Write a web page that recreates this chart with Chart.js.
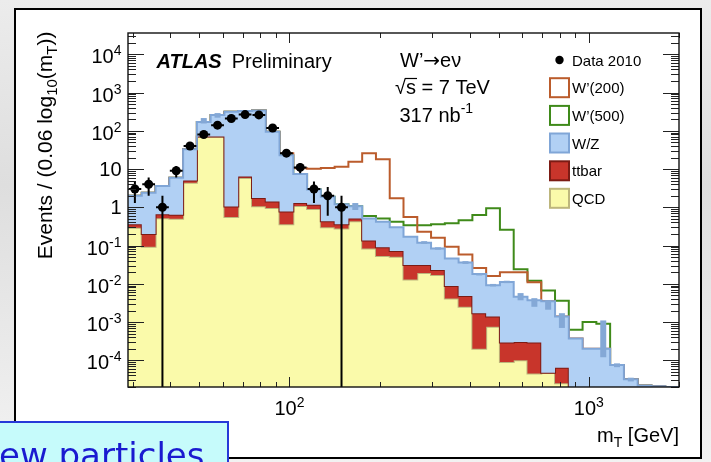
<!DOCTYPE html>
<html>
<head>
<meta charset="utf-8">
<title>W' to e nu, transverse mass</title>
<script src="https://cdn.jsdelivr.net/npm/chart.js@4.4.1/dist/chart.umd.min.js"></script>
<style>
  html, body { margin: 0; padding: 0; background: #e9e9e9; }
  #wrap { position: relative; width: 711px; height: 462px; overflow: hidden; }
  canvas { display: block; }
</style>
</head>
<body>
<div id="wrap"><canvas id="mt-chart" width="711" height="462"></canvas></div>
<script>
'use strict';

// *************** DATA
// binning: 40 equal steps in log10(mT) between these two edges (GeV)
let xMin = 28.9;
let xMax = 2000;
let nBins = 40;
let yMin = 2e-5;
let yMax = 3.6e4;

// stacked histogram tops, one value per bin
let qcdTop = [0.29, 0.093, 0.52, 0.5, 4.4, 70, 70, 0.56, 5.8, 1.07,
  0.95, 0.36, 1.08, 0.9, 0.3, 0.28, 0.43, 0.084, 0.053, 0.051,
  0.013, 0.019, 0.017, 0.0041, 0.0025, 0.0002, 0.00075, 0.00009, 0.0001, 0.000045,
  0.000047, 0.000025, 0, 0, 0, 0, 0, 0, 0, 0];
let ttbarTop = [0.36, 0.2, 0.66, 0.64, 5.0, 71, 71, 1.05, 6.4, 1.75,
  1.42, 0.77, 1.3, 1.17, 0.43, 0.36, 0.51, 0.135, 0.09, 0.072,
  0.031, 0.031, 0.023, 0.0087, 0.0048, 0.0017, 0.0014, 0.00029, 0.0003, 0.00029,
  0.000047, 0.000064, 0, 0, 0, 0, 0, 0, 0, 0];
let wzTop = [2.0, 2.4, 3.6, 5.9, 33, 170, 257, 314, 327, 340,
  94, 23, 7.4, 2.9, 1.88, 1.2, 1.07, 0.51, 0.42, 0.3,
  0.17, 0.118, 0.084, 0.046, 0.036, 0.018, 0.0092, 0.0112, 0.0046, 0.0037,
  0.0035, 0.0014, 0.00037, 0.0002, 0.0002, 0.000075, 0.000032, 0.000022, 0.000021, 0.00002];
// signal drawn on top of the full background
let wp200Top = [2.0, 2.4, 3.6, 5.9, 33, 170, 257, 314, 327, 340,
  94, 26, 10.4, 10.2, 10.6, 11.5, 15.5, 25.7, 17.9, 1.71,
  0.56, 0.23, 0.16, 0.093, 0.058, 0.026, 0.016, 0.02, 0.02, 0.011,
  0.0035, 0.0014, 0.00037, 0.0002, 0.0002, 0.000075, 0.000032, 0.000022, 0.000021, 0.00002];
let wp500Top = [2.0, 2.4, 3.6, 5.9, 33, 170, 257, 314, 327, 340,
  94, 23, 7.4, 2.9, 1.88, 1.2, 1.07, 0.59, 0.51, 0.42,
  0.34, 0.34, 0.36, 0.38, 0.46, 0.63, 0.94, 0.26, 0.024, 0.012,
  0.0067, 0.0036, 0.00063, 0.001, 0.0009, 0.000075, 0.000032, 0.000022, 0.000021, 0.00002];

// data 2010, first 16 bins
let dataCounts = [3, 4, 1, 9, 40, 80, 140, 210, 265, 260, 118, 26, 11, 3, 2, 1];
let dataErr = [1.7, 2, 1, 3, 6.3, 9, 11.8, 14.5, 16.3, 16.1, 10.9, 5.1, 3.3, 1.7, 1.4, 1];

// MC stat band where it shows (low / high), null = not visible
let mcBandLo = [null, null, null, null, null, 155, 220, null, null, null,
  null, null, null, null, null, null, 0.85, null, null, null,
  null, 0.11, 0.078, null, 0.033, 0.0165, 0.0085, 0.0104, 0.0037, 0.0025,
  0.0021, 0.0007, null, null, 0.00012, 0.000066, 0.000028, null, null, null];
let mcBandHi = [null, null, null, null, null, 215, 290, null, null, null,
  null, null, null, null, null, null, 1.29, null, null, null,
  null, 0.13, 0.09, null, 0.039, 0.019, 0.0099, 0.012, 0.0057, 0.0042,
  0.0037, 0.0017, null, null, 0.0011, 0.000083, 0.000035, null, null, null];

let yTickExps = [-4, -3, -2, -1, 0, 1, 2, 3, 4];
let xTickExps = [2, 3];
let legendNames = ['Data 2010', 'W’(200)', 'W’(500)', 'W/Z', 'ttbar', 'QCD'];

// *************** COLOURS
let qcdFill = '#fafaaa';
let qcdLine = '#bdb67c';
let ttbarFill = '#c8352b';
let ttbarLine = '#7c1b14';
let wzFill = '#b1d0f4';
let wzLine = '#80a6d7';
let wp200Line = '#bb5c2c';
let wp500Line = '#3f8a1a';
let bandColor = '#84a8d6';
let sansFont = '"Liberation Sans", Arial, Helvetica, sans-serif';

// *************** BINS
let binEdges = [];
let logStep = (Math.log10(xMax) - Math.log10(xMin)) / nBins;
for (let i = 0; i <= nBins; i++) {
  binEdges.push(Math.pow(10, Math.log10(xMin) + i * logStep));
}
let binCenters = [];
for (let i = 0; i < nBins; i++) {
  binCenters.push(Math.sqrt(binEdges[i] * binEdges[i + 1]));
}

// histogram as stepped line: one point per left edge plus the closing edge
function histPoints(values) {
  let pts = [];
  for (let i = 0; i < nBins; i++) {
    // empty bins go far below the axis so they get clipped
    pts.push({ x: binEdges[i], y: values[i] > 0 ? values[i] : 1e-9 });
  }
  pts.push({ x: binEdges[nBins], y: pts[nBins - 1].y });
  return pts;
}

let dataPoints = [];
for (let i = 0; i < dataCounts.length; i++) {
  dataPoints.push({ x: binCenters[i], y: dataCounts[i] });
}

// *************** DRAW HELPERS
// pieces: {t, size, dy, style}
function richText(ctx, pieces, x, y, align) {
  let total = 0;
  for (let p of pieces) {
    ctx.font = (p.style || '') + ' ' + p.size + 'px ' + sansFont;
    p.w = ctx.measureText(p.t).width;
    total += p.w;
  }
  let cx = x;
  if (align === 'right') cx = x - total;
  if (align === 'center') cx = x - total / 2;
  ctx.textAlign = 'left';
  ctx.textBaseline = 'alphabetic';
  for (let p of pieces) {
    ctx.font = (p.style || '') + ' ' + p.size + 'px ' + sansFont;
    ctx.fillText(p.t, cx, y + (p.dy || 0));
    cx += p.w;
  }
  return total;
}

function powerLabel(exp) {
  if (exp === 0) return [{ t: '1', size: 20 }];
  if (exp === 1) return [{ t: '10', size: 20 }];
  return [{ t: '10', size: 20 }, { t: String(exp), size: 14, dy: -8 }];
}

// *************** PLUGINS
let pageBackground = {
  id: 'pageBackground',
  beforeDraw(chart) {
    let ctx = chart.ctx;
    ctx.save();
    let g = ctx.createLinearGradient(0, 0, 0, 462);
    g.addColorStop(0, '#ececec');
    g.addColorStop(0.4, '#dedede');
    g.addColorStop(1, '#f2f2f2');
    ctx.fillStyle = g;
    ctx.fillRect(0, 0, chart.width, chart.height);
    ctx.fillStyle = '#ffffff';
    ctx.fillRect(15, 9, 686, 449);
    ctx.strokeStyle = '#000';
    ctx.lineWidth = 2;
    ctx.strokeRect(15, 9, 686, 449);
    ctx.restore();
  }
};

let plotDecor = {
  id: 'plotDecor',
  afterDatasetsDraw(chart) {
    let ctx = chart.ctx;
    let a = chart.chartArea;
    let xs = chart.scales.x;
    let ys = chart.scales.y;
    ctx.save();

    // MC stat band marks
    ctx.fillStyle = bandColor;
    for (let i = 0; i < nBins; i++) {
      if (mcBandLo[i] === null) continue;
      let cx = xs.getPixelForValue(binCenters[i]);
      let top = ys.getPixelForValue(mcBandHi[i]);
      let bot = ys.getPixelForValue(mcBandLo[i]);
      ctx.fillRect(cx - 3, top, 6, Math.max(bot - top, 2));
    }

    // data error bars
    ctx.save();
    ctx.beginPath();
    ctx.rect(a.left, a.top, a.right - a.left, a.bottom - a.top);
    ctx.clip();
    ctx.strokeStyle = '#000';
    ctx.lineWidth = 2;
    for (let i = 0; i < dataCounts.length; i++) {
      let cx = xs.getPixelForValue(binCenters[i]);
      let cy = ys.getPixelForValue(dataCounts[i]);
      let lo = dataCounts[i] - dataErr[i];
      let yLo = lo > 0 ? ys.getPixelForValue(lo) : a.bottom;
      let yHi = ys.getPixelForValue(dataCounts[i] + dataErr[i]);
      ctx.beginPath();
      ctx.moveTo(cx, yHi);
      ctx.lineTo(cx, yLo);
      ctx.moveTo(xs.getPixelForValue(binEdges[i]) + 0.5, cy);
      ctx.lineTo(xs.getPixelForValue(binEdges[i + 1]) - 0.5, cy);
      ctx.stroke();
    }
    ctx.restore();

    // ticks on all four sides, pointing in
    ctx.strokeStyle = '#222';
    ctx.lineWidth = 1;
    ctx.beginPath();
    for (let dec = 1; dec <= 3; dec++) {
      for (let m = 1; m <= 9; m++) {
        let v = m * Math.pow(10, dec);
        if (v < xMin || v > xMax) continue;
        let px = Math.round(xs.getPixelForValue(v)) + 0.5;
        let len = m === 1 ? 10 : 5;
        ctx.moveTo(px, a.bottom);
        ctx.lineTo(px, a.bottom - len);
        ctx.moveTo(px, a.top);
        ctx.lineTo(px, a.top + len);
      }
    }
    for (let dec = -5; dec <= 4; dec++) {
      for (let m = 1; m <= 9; m++) {
        let v = m * Math.pow(10, dec);
        if (v < yMin || v > yMax) continue;
        let py = Math.round(ys.getPixelForValue(v)) + 0.5;
        let len = m === 1 ? 16 : 8;
        ctx.moveTo(a.left, py);
        ctx.lineTo(a.left + len, py);
        ctx.moveTo(a.right, py);
        ctx.lineTo(a.right - len, py);
      }
    }
    ctx.stroke();

    ctx.strokeStyle = '#111';
    ctx.lineWidth = 1.4;
    ctx.strokeRect(a.left, a.top, a.right - a.left, a.bottom - a.top);
    ctx.restore();
  }
};

let textLayer = {
  id: 'textLayer',
  afterDraw(chart) {
    let ctx = chart.ctx;
    let a = chart.chartArea;
    let xs = chart.scales.x;
    let ys = chart.scales.y;
    ctx.save();
    ctx.fillStyle = '#000';

    // tick labels
    for (let e of yTickExps) {
      let py = ys.getPixelForValue(Math.pow(10, e));
      let base = (e === 0 || e === 1) ? py + 7 : py + 9;
      richText(ctx, powerLabel(e), 121.5, base, 'right');
    }
    for (let e of xTickExps) {
      let px = xs.getPixelForValue(Math.pow(10, e));
      richText(ctx, powerLabel(e), px, 415, 'center');
    }

    // axis titles
    richText(ctx, [{ t: 'm', size: 20 }, { t: 'T', size: 14, dy: 5 }, { t: ' [GeV]', size: 20 }],
      a.right, 441.5, 'right');
    ctx.save();
    ctx.translate(52, 31.5);
    ctx.rotate(-Math.PI / 2);
    richText(ctx, [{ t: 'Events / (0.06 log', size: 21 }, { t: '10', size: 15, dy: 5 },
      { t: '(m', size: 21 }, { t: 'T', size: 15, dy: 5 }, { t: '))', size: 21 }], 0, 0, 'right');
    ctx.restore();

    // labels inside the plot
    let w = richText(ctx, [{ t: 'ATLAS', size: 20, style: 'italic bold' }], 156.5, 68, 'left');
    richText(ctx, [{ t: 'Preliminary', size: 20 }], 156.5 + w + 10, 68, 'left');
    let ww = richText(ctx, [{ t: 'W’', size: 20 }], 400, 67, 'left');
    // arrow drawn as a glyph from a font that has a full-size one
    ctx.font = '20px "DejaVu Sans", sans-serif';
    ctx.fillText('→', 400 + ww, 67);
    let aw = ctx.measureText('→').width;
    richText(ctx, [{ t: 'eν', size: 20 }], 400 + ww + aw, 67, 'left');
    let rw = richText(ctx, [{ t: '√', size: 20 }], 395, 94, 'left');
    let sw = richText(ctx, [{ t: 's', size: 20 }], 395 + rw, 94, 'left');
    richText(ctx, [{ t: ' = 7 TeV', size: 20 }], 395 + rw + sw, 94, 'left');
    ctx.strokeStyle = '#000';
    ctx.lineWidth = 1.2;
    ctx.beginPath();
    ctx.moveTo(395 + rw - 1, 78.5);
    ctx.lineTo(395 + rw + sw + 1, 78.5);
    ctx.stroke();
    richText(ctx, [{ t: '317 nb', size: 20 }, { t: '-1', size: 14, dy: -9 }], 399.5, 121.5, 'left');

    // legend
    let boxX = 550;
    let textX = 572;
    let rowY = [60, 87.7, 115.4, 143, 170.8, 198.3];
    ctx.beginPath();
    ctx.arc(559.5, rowY[0], 4.2, 0, Math.PI * 2);
    ctx.fill();
    let boxStyles = [
      null,
      ['#ffffff', wp200Line],
      ['#ffffff', wp500Line],
      [wzFill, wzLine],
      [ttbarFill, ttbarLine],
      [qcdFill, qcdLine]
    ];
    for (let i = 0; i < legendNames.length; i++) {
      if (boxStyles[i]) {
        ctx.fillStyle = boxStyles[i][0];
        ctx.fillRect(boxX, rowY[i] - 9.5, 19, 19);
        ctx.strokeStyle = boxStyles[i][1];
        ctx.lineWidth = 2;
        ctx.strokeRect(boxX, rowY[i] - 9.5, 19, 19);
      }
      ctx.fillStyle = '#000';
      richText(ctx, [{ t: legendNames[i], size: 15 }], textX, rowY[i] + 5.5, 'left');
    }

    // note box in the lower left corner of the slide
    ctx.fillStyle = '#c6fbfb';
    ctx.fillRect(-5, 422, 233, 60);
    ctx.strokeStyle = '#2638d8';
    ctx.lineWidth = 2;
    ctx.strokeRect(-5, 422, 233, 60);
    ctx.fillStyle = '#1a1ad0';
    ctx.font = '34px "DejaVu Sans", sans-serif';
    let nW = ctx.measureText('n').width;
    ctx.fillText('new particles', -nW - 1, 467);
    ctx.restore();
  }
};

// *************** CHART
let ctx = document.getElementById('mt-chart');

function histDataset(label, values, lineColor, fillColor, fillTarget, order) {
  return {
    label: label,
    data: histPoints(values),
    stepped: true,
    borderColor: lineColor,
    borderWidth: 2,
    backgroundColor: fillColor,
    fill: fillTarget,
    pointRadius: 0,
    pointHitRadius: 0,
    order: order
  };
}

let chartObj = {
  type: 'line',
  data: {
    datasets: [
      {
        label: 'Data 2010',
        data: dataPoints,
        showLine: false,
        pointRadius: 4.5,
        pointBackgroundColor: '#000',
        pointBorderColor: '#000',
        pointBorderWidth: 0,
        order: 1
      },
      histDataset('W/Z', wzTop, wzLine, wzFill, 2, 2),
      histDataset('ttbar', ttbarTop, ttbarLine, ttbarFill, 3, 3),
      histDataset('QCD', qcdTop, qcdLine, qcdFill, 'start', 4),
      histDataset('W’(200)', wp200Top, wp200Line, 'transparent', false, 5),
      histDataset('W’(500)', wp500Top, wp500Line, 'transparent', false, 6)
    ]
  },
  options: {
    responsive: false,
    animation: false,
    devicePixelRatio: 1,
    layout: { padding: { left: 128, top: 33, right: 32, bottom: 75 } },
    scales: {
      x: { type: 'logarithmic', min: xMin, max: xMax, bounds: 'data', display: false },
      y: { type: 'logarithmic', min: yMin, max: yMax, bounds: 'data', display: false }
    },
    elements: { line: { tension: 0 } },
    plugins: {
      legend: { display: false },
      tooltip: { enabled: false }
    }
  },
  plugins: [pageBackground, plotDecor, textLayer]
};

new Chart(ctx, chartObj); // eslint-disable-line
</script>
</body>
</html>
